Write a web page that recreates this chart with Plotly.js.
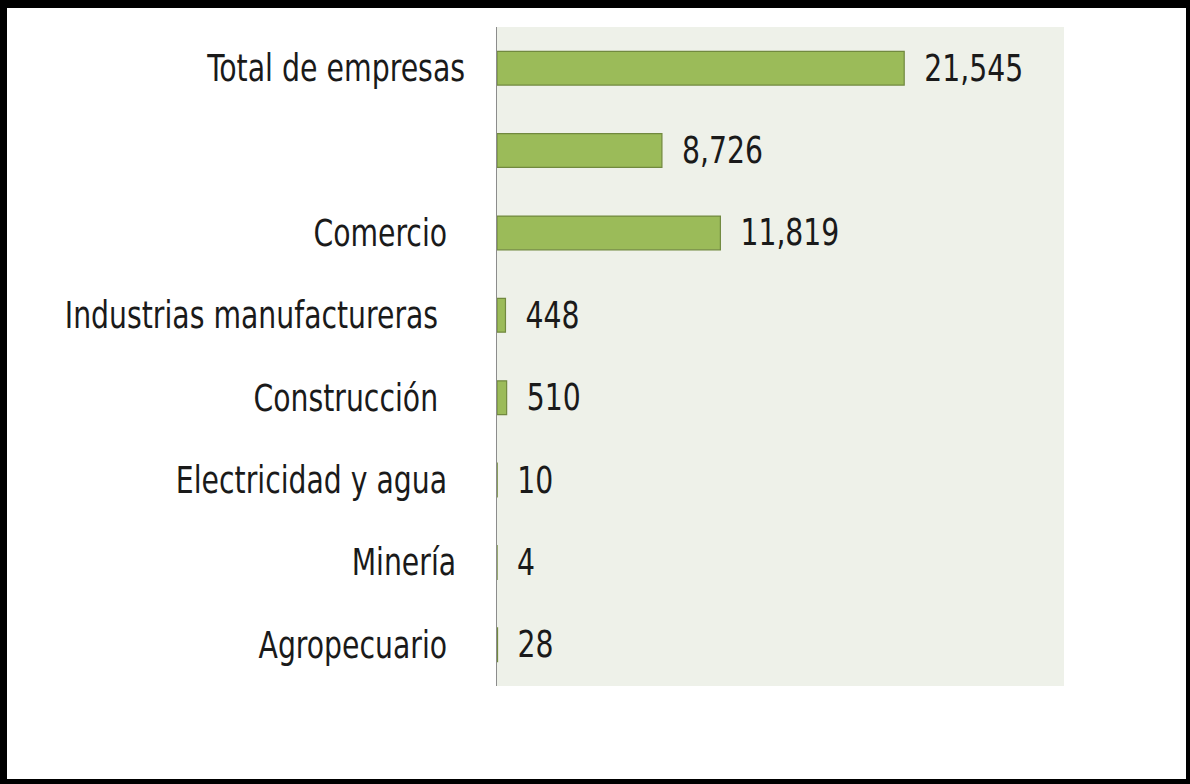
<!DOCTYPE html>
<html>
<head>
<meta charset="utf-8">
<script src="https://cdn.plot.ly/plotly-3.0.1.min.js"></script>
<style>
  html, body { margin: 0; padding: 0; background: #ffffff; }
  #wrap { position: relative; width: 1190px; height: 784px; }
  #chart { position: absolute; left: 0; top: 0; width: 1190px; height: 784px; }
  #frame { position: absolute; left: 0; top: 0; width: 1190px; height: 784px; box-sizing: border-box;
           border-style: solid; border-color: #000; border-width: 8px 4px 5px 7px; pointer-events: none; }
</style>
</head>
<body>
<div id="wrap">
  <div id="chart"></div>
  <div id="frame"></div>
</div>
<script>
// Categories from top to bottom (second label is blank in the original)
const categories = [
  'Total de empresas',
  '',
  'Comercio',
  'Industrias manufactureras',
  'Construcción',
  'Electricidad y agua',
  'Minería',
  'Agropecuario'
];
// Trailing spaces (count) after each label, as in the original
const labelPadding = [0, 0, 2, 3, 3, 2, 1, 2];
const empresas = [21545, 8726, 11819, 448, 510, 10, 4, 28];

const positions = categories.map((c, i) => i);
const valueText = empresas.map(v => v.toLocaleString('en-US'));

const FONT = '"DejaVu Sans Condensed", "DejaVu Sans", sans-serif';
const NARROW = 0.85;   // horizontal condensing of the text, like the original narrow face
const VALUE_GAP = 17;  // extra space between bar end and its value label
const SPACE_W = 9;     // width of one trailing space, px

const trace = {
  type: 'bar',
  orientation: 'h',
  y: positions,
  x: empresas,
  text: valueText,
  textposition: 'outside',
  constraintext: 'none',
  textfont: { family: FONT, size: 37, color: '#1a1a1a' },
  cliponaxis: false,
  marker: { color: '#9BBB59', line: { color: '#71893F', width: 1.2 } },
  hoverinfo: 'none'
};

const layout = {
  width: 1190,
  height: 784,
  margin: { l: 497, r: 126, t: 27, b: 98, pad: 0 },
  paper_bgcolor: '#ffffff',
  plot_bgcolor: '#EEF1E9',
  showlegend: false,
  bargap: 0.59,
  font: { family: FONT, size: 37, color: '#1a1a1a' },
  xaxis: {
    range: [0, 30000],
    showgrid: false,
    zeroline: false,
    showticklabels: false,
    ticks: '',
    showline: false,
    fixedrange: true
  },
  yaxis: {
    autorange: false,
    range: [categories.length - 0.5, -0.5],
    tickmode: 'array',
    tickvals: positions,
    ticktext: categories,
    ticks: '',
    showgrid: false,
    zeroline: false,
    showline: true,
    linecolor: '#8c8c8c',
    linewidth: 1.5,
    ticklabelstandoff: 23,
    tickfont: { family: FONT, size: 37, color: '#1a1a1a' },
    fixedrange: true
  }
};

function condense(el, keepEnd, shift) {
  const bb = el.getBBox();
  if (!bb.width) return;
  const w = bb.width * NARROW;
  const x0 = (keepEnd ? bb.x + bb.width - w : bb.x) + shift;
  el.setAttribute('text-anchor', 'start');
  el.setAttribute('x', x0);
  el.setAttribute('textLength', w);
  el.setAttribute('lengthAdjust', 'spacingAndGlyphs');
}

Plotly.newPlot('chart', [trace], layout, { displayModeBar: false, staticPlot: true }).then(() => {
  document.querySelectorAll('g.ytick text').forEach(el => {
    const idx = categories.indexOf(el.textContent);
    const pad = idx >= 0 ? labelPadding[idx] : 0;
    condense(el, true, -pad * SPACE_W);
  });
  document.querySelectorAll('text.bartext').forEach(el => condense(el, false, VALUE_GAP));
});
</script>
</body>
</html>
